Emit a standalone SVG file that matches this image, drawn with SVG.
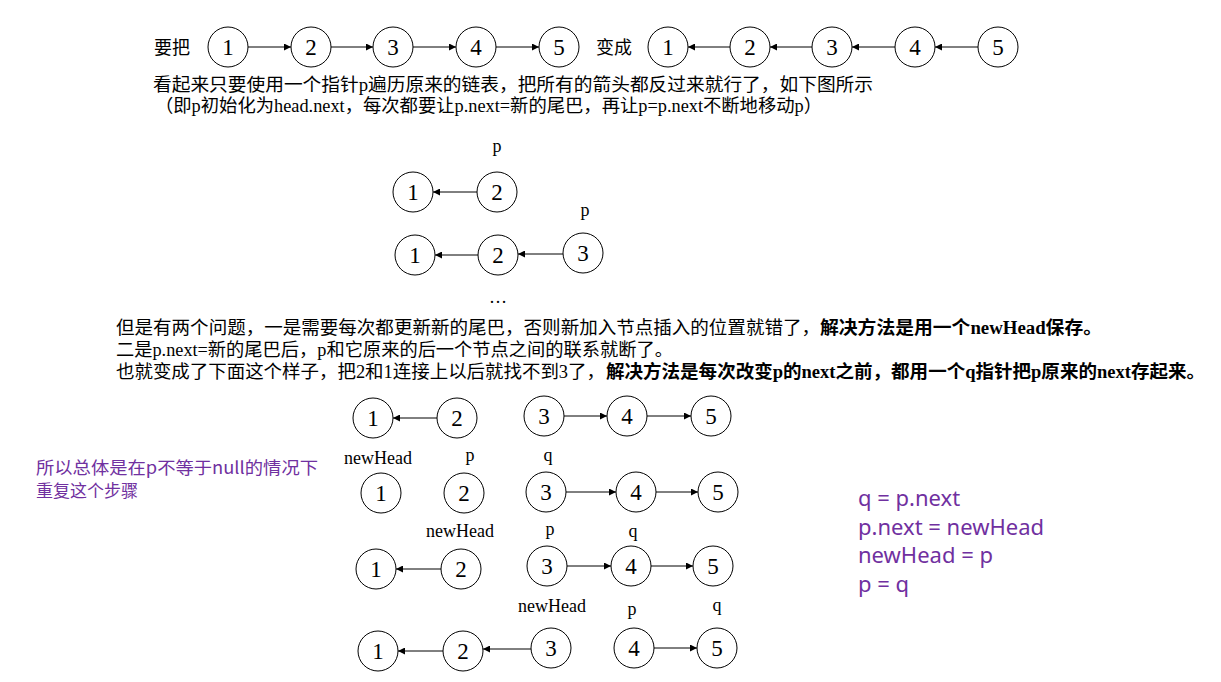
<svg xmlns="http://www.w3.org/2000/svg" width="1221" height="682" viewBox="0 0 1221 682">
<style>
.n circle{fill:#fff;stroke:#000;stroke-width:1}
.n text{font-family:"Liberation Serif","Noto Sans CJK SC",serif;font-size:23px;text-anchor:middle;fill:#000}
.t{font-family:"Liberation Serif","Noto Sans CJK SC",serif;font-size:18px;fill:#000}
.b{font-weight:bold}
.lb{font-family:"Liberation Serif","Noto Sans CJK SC",serif;font-size:18px;fill:#000;text-anchor:middle}
.pu{font-family:"Noto Sans CJK SC","Noto Sans",sans-serif;font-size:17px;fill:#7030A0}
.code{font-family:"Noto Sans","Noto Sans CJK SC",sans-serif;font-size:22px;fill:#7030A0}
#connectors line{stroke:#000;stroke-width:1;marker-end:url(#ah)}
</style>
<defs>
<marker id="ah" viewBox="0 0 10 10" refX="10" refY="5" markerWidth="9" markerHeight="7" markerUnits="userSpaceOnUse" orient="auto"><path d="M0,0 L10,5 L0,10 z" fill="#000"/></marker>
</defs>
<rect width="1221" height="682" fill="#fff"/>

<g id="texts">
<text class="t" x="154" y="54">要把</text>
<text class="t" x="596" y="54">变成</text>
<text class="t" x="153" y="91" textLength="720" lengthAdjust="spacingAndGlyphs">看起来只要使用一个指针p遍历原来的链表，把所有的箭头都反过来就行了，如下图所示</text>
<text class="t" x="155" y="112" textLength="667" lengthAdjust="spacingAndGlyphs">（即p初始化为head.next，每次都要让p.next=新的尾巴，再让p=p.next不断地移动p）</text>
<text class="lb" x="497" y="152">p</text>
<text class="lb" x="585" y="216">p</text>
<text class="lb" x="498" y="303">…</text>
<text class="t" x="116" y="334" textLength="704" lengthAdjust="spacingAndGlyphs">但是有两个问题，一是需要每次都更新新的尾巴，否则新加入节点插入的位置就错了，</text>
<text class="t b" x="820" y="334" textLength="282" lengthAdjust="spacingAndGlyphs">解决方法是用一个newHead保存。</text>
<text class="t" x="116" y="356" textLength="557" lengthAdjust="spacingAndGlyphs">二是p.next=新的尾巴后，p和它原来的后一个节点之间的联系就断了。</text>
<text class="t" x="116" y="378" textLength="489" lengthAdjust="spacingAndGlyphs">也就变成了下面这个样子，把2和1连接上以后就找不到3了，</text>
<text class="t b" x="606" y="378" textLength="599" lengthAdjust="spacingAndGlyphs">解决方法是每次改变p的next之前，都用一个q指针把p原来的next存起来。</text>
<text class="lb" x="378" y="464">newHead</text>
<text class="lb" x="470" y="461">p</text>
<text class="lb" x="548" y="461">q</text>
<text class="lb" x="460" y="537">newHead</text>
<text class="lb" x="550" y="535">p</text>
<text class="lb" x="633" y="537">q</text>
<text class="lb" x="552" y="612">newHead</text>
<text class="lb" x="632" y="615">p</text>
<text class="lb" x="717" y="611">q</text>
<text class="pu" x="36" y="474" textLength="282" lengthAdjust="spacingAndGlyphs">所以总体是在p不等于null的情况下</text>
<text class="pu" x="36" y="497">重复这个步骤</text>
<text class="code" x="858" y="506">q = p.next</text>
<text class="code" x="858" y="535">p.next = newHead</text>
<text class="code" x="858" y="563">newHead = p</text>
<text class="code" x="858" y="592">p = q</text>
</g>

<g id="connectors">
<line x1="248" y1="47" x2="291" y2="47"/>
<line x1="331" y1="47" x2="373" y2="47"/>
<line x1="413" y1="47" x2="456" y2="47"/>
<line x1="496" y1="47" x2="539" y2="47"/>
<line x1="730" y1="47" x2="688" y2="47"/>
<line x1="812" y1="47" x2="770" y2="47"/>
<line x1="895" y1="47" x2="852" y2="47"/>
<line x1="978" y1="47" x2="935" y2="47"/>
<line x1="477" y1="192" x2="433" y2="192"/>
<line x1="478" y1="255" x2="435" y2="255"/>
<line x1="563" y1="254" x2="518" y2="254"/>
<line x1="437" y1="418" x2="393" y2="418"/>
<line x1="564" y1="416" x2="607" y2="416"/>
<line x1="647" y1="416" x2="691" y2="416"/>
<line x1="566" y1="492" x2="616" y2="492"/>
<line x1="656" y1="492" x2="698" y2="492"/>
<line x1="441" y1="569" x2="396" y2="569"/>
<line x1="567" y1="566" x2="611" y2="566"/>
<line x1="651" y1="566" x2="693" y2="566"/>
<line x1="443" y1="651" x2="398" y2="651"/>
<line x1="531" y1="649" x2="483" y2="649"/>
<line x1="654" y1="648" x2="697" y2="648"/>
</g>

<g id="top-a" class="n">
<g id="a1"><circle cx="228" cy="47" r="20"/><text x="228" y="55">1</text></g>
<g id="a2"><circle cx="311" cy="47" r="20"/><text x="311" y="55">2</text></g>
<g id="a3"><circle cx="393" cy="47" r="20"/><text x="393" y="55">3</text></g>
<g id="a4"><circle cx="476" cy="47" r="20"/><text x="476" y="55">4</text></g>
<g id="a5"><circle cx="559" cy="47" r="20"/><text x="559" y="55">5</text></g>
</g>
<g id="top-b" class="n">
<g id="b1"><circle cx="668" cy="47" r="20"/><text x="668" y="55">1</text></g>
<g id="b2"><circle cx="750" cy="47" r="20"/><text x="750" y="55">2</text></g>
<g id="b3"><circle cx="832" cy="47" r="20"/><text x="832" y="55">3</text></g>
<g id="b4"><circle cx="915" cy="47" r="20"/><text x="915" y="55">4</text></g>
<g id="b5"><circle cx="998" cy="47" r="20"/><text x="998" y="55">5</text></g>
</g>
<g id="mid" class="n">
<g id="c1"><circle cx="413" cy="192" r="20"/><text x="413" y="200">1</text></g>
<g id="c2"><circle cx="497" cy="192" r="20"/><text x="497" y="200">2</text></g>
<g id="d1"><circle cx="415" cy="255" r="20"/><text x="415" y="263">1</text></g>
<g id="d2"><circle cx="498" cy="255" r="20"/><text x="498" y="263">2</text></g>
<g id="d3"><circle cx="583" cy="253" r="20"/><text x="583" y="261">3</text></g>
</g>
<g id="rowA" class="n">
<g id="e1"><circle cx="373" cy="418" r="20"/><text x="373" y="426">1</text></g>
<g id="e2"><circle cx="457" cy="418" r="20"/><text x="457" y="426">2</text></g>
<g id="e3"><circle cx="544" cy="416" r="20"/><text x="544" y="424">3</text></g>
<g id="e4"><circle cx="627" cy="416" r="20"/><text x="627" y="424">4</text></g>
<g id="e5"><circle cx="711" cy="416" r="20"/><text x="711" y="424">5</text></g>
</g>
<g id="rowB" class="n">
<g id="f1"><circle cx="381" cy="493" r="20"/><text x="381" y="501">1</text></g>
<g id="f2"><circle cx="464" cy="493" r="20"/><text x="464" y="501">2</text></g>
<g id="f3"><circle cx="546" cy="492" r="20"/><text x="546" y="500">3</text></g>
<g id="f4"><circle cx="636" cy="492" r="20"/><text x="636" y="500">4</text></g>
<g id="f5"><circle cx="718" cy="492" r="20"/><text x="718" y="500">5</text></g>
</g>
<g id="rowC" class="n">
<g id="g1"><circle cx="376" cy="569" r="20"/><text x="376" y="577">1</text></g>
<g id="g2"><circle cx="461" cy="569" r="20"/><text x="461" y="577">2</text></g>
<g id="g3"><circle cx="547" cy="566" r="20"/><text x="547" y="574">3</text></g>
<g id="g4"><circle cx="631" cy="566" r="20"/><text x="631" y="574">4</text></g>
<g id="g5"><circle cx="713" cy="566" r="20"/><text x="713" y="574">5</text></g>
</g>
<g id="rowD" class="n">
<g id="h1"><circle cx="378" cy="651" r="20"/><text x="378" y="659">1</text></g>
<g id="h2"><circle cx="463" cy="651" r="20"/><text x="463" y="659">2</text></g>
<g id="h3"><circle cx="551" cy="648" r="20"/><text x="551" y="656">3</text></g>
<g id="h4"><circle cx="634" cy="648" r="20"/><text x="634" y="656">4</text></g>
<g id="h5"><circle cx="717" cy="648" r="20"/><text x="717" y="656">5</text></g>
</g>
</svg>
